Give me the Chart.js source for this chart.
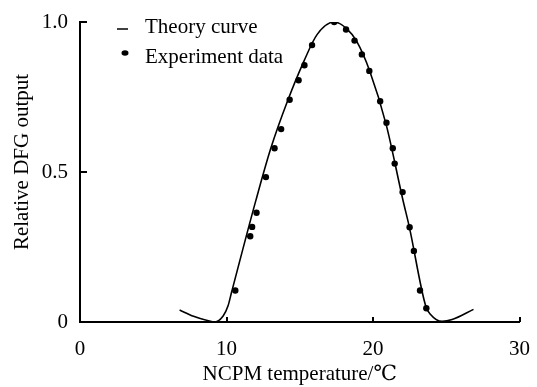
<!DOCTYPE html>
<html lang="en">
<head>
    <meta charset="UTF-8">
    <title>Relative DFG output vs NCPM temperature</title>
    <style>
        body { margin: 0; background: #fff; }
        .container { width: 537px; height: 387px; position: relative; }
    </style>
</head>
<body>
    <div class="container">
        <canvas id="dfgChart"></canvas>
    </div>

    <script src="https://cdn.jsdelivr.net/npm/chart.js"></script>
    <script>
        // theory curve
        const theoryT = [6.8, 7.75, 8.76, 9.2, 9.77, 10.1, 10.35, 12.02, 13.03, 14.16, 15.28, 16.18, 17.35,
                         18.2, 18.88, 19.78, 20.9, 22.05, 22.47, 23.6, 23.93, 24.72, 25.4, 26.86];
        const theoryY = [0.04, 0.019, 0.004, 0.0, 0.02, 0.053, 0.1, 0.408, 0.58, 0.736, 0.869, 0.958, 1.0,
                         0.978, 0.936, 0.836, 0.658, 0.405, 0.319, 0.053, 0.025, 0.002, 0.008, 0.042];

        // experiment data
        const expT = [10.6, 11.62, 11.75, 12.05, 12.69, 13.28, 13.73, 14.31, 14.92, 15.32, 15.84, 17.35,
                      18.16, 18.74, 19.24, 19.75, 20.49, 20.92, 21.35, 21.48, 22.02, 22.5, 22.79, 23.21, 23.64];
        const expY = [0.105, 0.286, 0.317, 0.364, 0.483, 0.579, 0.643, 0.741, 0.806, 0.856, 0.923, 1.0,
                      0.975, 0.938, 0.892, 0.837, 0.736, 0.664, 0.579, 0.528, 0.433, 0.316, 0.237, 0.105, 0.046];

        const xTicks = [0, 10, 20, 30];
        const yTicks = [0, 0.5, 1.0];
        const yTickLabels = ['0', '0.5', '1.0'];

        const serif = '"Liberation Serif", "DejaVu Serif", serif';

        // axis lines, short inward tick marks, y title and hand made legend
        const extras = {
            id: 'extras',
            afterDraw(chart) {
                const ctx = chart.ctx;
                const xs = chart.scales.x, ys = chart.scales.y;
                const x0 = Math.round(xs.getPixelForValue(0));
                const y0 = Math.round(ys.getPixelForValue(0));
                const yTop = Math.round(ys.getPixelForValue(1));
                const xEnd = Math.round(xs.getPixelForValue(30));
                ctx.save();
                ctx.fillStyle = '#000';
                // axes as thin filled rects
                ctx.fillRect(x0 - 1, yTop - 1, 2, y0 - yTop + 2);
                ctx.fillRect(x0 - 1, y0 - 1, xEnd - x0 + 1, 2);
                // inward ticks
                yTicks.slice(1).forEach(v => {
                    const py = Math.round(ys.getPixelForValue(v));
                    ctx.fillRect(x0, py - 1, 7, 2);
                });
                xTicks.slice(1).forEach(v => {
                    const px = Math.round(xs.getPixelForValue(v));
                    ctx.fillRect(px - 1, y0 - 5, 2, 5);
                });

                ctx.font = '21px ' + serif;

                // y axis title
                ctx.save();
                ctx.translate(22, 162);
                ctx.rotate(-Math.PI / 2);
                ctx.textAlign = 'center';
                ctx.textBaseline = 'middle';
                ctx.fillText('Relative DFG output', 0, 0);
                ctx.restore();

                // legend
                ctx.strokeStyle = '#000';
                ctx.lineWidth = 1.5;
                ctx.beginPath();
                ctx.moveTo(117, 29);
                ctx.lineTo(128, 29);
                ctx.stroke();
                ctx.beginPath();
                ctx.ellipse(125, 53, 3.5, 2.8, 0, 0, Math.PI * 2);
                ctx.fill();
                ctx.textBaseline = 'middle';
                ctx.textAlign = 'left';
                ctx.fillText('Theory curve', 145, 27);
                ctx.fillText('Experiment data', 145, 57);
                ctx.restore();
            }
        };

        const ctx = document.getElementById('dfgChart').getContext('2d');
        const dfgChart = new Chart(ctx, {
            type: 'scatter',
            data: {
                datasets: [{
                    label: 'Theory curve',
                    data: theoryT.map((t, i) => ({ x: t, y: theoryY[i] })),
                    showLine: true,
                    borderColor: '#000',
                    borderWidth: 1.6,
                    pointRadius: 0,
                    cubicInterpolationMode: 'monotone',
                    fill: false
                }, {
                    label: 'Experiment data',
                    data: expT.map((t, i) => ({ x: t, y: expY[i] })),
                    showLine: false,
                    backgroundColor: '#000',
                    borderColor: '#000',
                    pointStyle: 'circle',
                    pointRadius: 3.2,
                    borderWidth: 0
                }]
            },
            plugins: [extras],
            options: {
                responsive: true,
                maintainAspectRatio: false,
                animation: false,
                layout: { padding: { top: 22, right: 12, left: 0, bottom: 0 } },
                plugins: {
                    legend: { display: false },
                    tooltip: { enabled: false }
                },
                scales: {
                    x: {
                        type: 'linear',
                        min: 0,
                        max: 30,
                        afterBuildTicks: s => { s.ticks = xTicks.map(v => ({ value: v })); },
                        afterFit: s => { s.height = 65; },
                        grid: { display: false },
                        border: { display: false },
                        ticks: {
                            color: '#000',
                            padding: 7,
                            font: { family: serif, size: 21 }
                        },
                        title: {
                            display: true,
                            text: 'NCPM temperature/℃',
                            color: '#000',
                            font: { family: serif, size: 21 },
                            padding: { top: 10, bottom: 0 }
                        }
                    },
                    y: {
                        min: 0,
                        max: 1,
                        afterBuildTicks: s => { s.ticks = yTicks.map(v => ({ value: v })); },
                        afterFit: s => { s.width = 80; },
                        grid: { display: false },
                        border: { display: false },
                        ticks: {
                            color: '#000',
                            padding: 4,
                            font: { family: serif, size: 21 },
                            callback: (v) => yTickLabels[yTicks.indexOf(v)]
                        }
                    }
                }
            }
        });
    </script>
</body>
</html>
